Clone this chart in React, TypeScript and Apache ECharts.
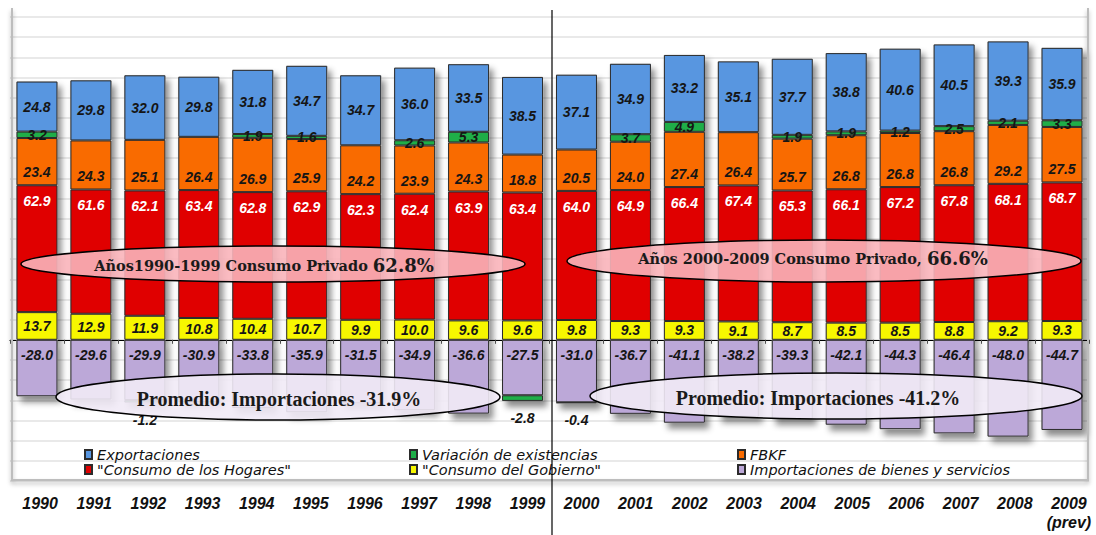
import React, { useEffect, useRef } from "react";
import * as echarts from "echarts";

const categories = ["1990","1991","1992","1993","1994","1995","1996","1997","1998","1999","2000","2001","2002","2003","2004","2005","2006","2007","2008","2009\n(prev)"];
const exportaciones = [24.8,29.8,32.0,29.8,31.8,34.7,34.7,36.0,33.5,38.5,37.1,34.9,33.2,35.1,37.7,38.8,40.6,40.5,39.3,35.9];
const variacion: (number | null)[] = [3.2,null,-1.2,null,1.9,1.6,null,2.6,5.3,-2.8,-0.4,3.7,4.9,null,1.9,1.9,1.2,2.5,2.1,3.3];
const fbkf = [23.4,24.3,25.1,26.4,26.9,25.9,24.2,23.9,24.3,18.8,20.5,24.0,27.4,26.4,25.7,26.8,26.8,26.8,29.2,27.5];
const hogares = [62.9,61.6,62.1,63.4,62.8,62.9,62.3,62.4,63.9,63.4,64.0,64.9,66.4,67.4,65.3,66.1,67.2,67.8,68.1,68.7];
const gobierno = [13.7,12.9,11.9,10.8,10.4,10.7,9.9,10.0,9.6,9.6,9.8,9.3,9.3,9.1,8.7,8.5,8.5,8.8,9.2,9.3];
const importaciones = [-28.0,-29.6,-29.9,-30.9,-33.8,-35.9,-31.5,-34.9,-36.6,-27.5,-31.0,-36.7,-41.1,-38.2,-39.3,-42.1,-44.3,-46.4,-48.0,-44.7];

const N_EXP = "Exportaciones";
const N_VAR = "Variación de existencias";
const N_FBKF = "FBKF";
const N_HOG = "\"Consumo de los Hogares\"";
const N_GOB = "\"Consumo del Gobierno\"";
const N_IMP = "Importaciones de bienes y servicios";

export default function App() {
  const ref = useRef<HTMLDivElement>(null);
  useEffect(() => {
    if (!ref.current) return;
    const chart = echarts.init(ref.current, null, { renderer: "svg" });

    const posTotals = categories.map((_, i) =>
      gobierno[i] + hogares[i] + fbkf[i] + exportaciones[i] + (variacion[i] && (variacion[i] as number) > 0 ? (variacion[i] as number) : 0));
    const negTotals = categories.map((_, i) =>
      importaciones[i] + (variacion[i] && (variacion[i] as number) < 0 ? (variacion[i] as number) : 0));

    const fmt = (p: any) => (p.value == null ? "" : Number(p.value).toFixed(1));
    const lblFont = { fontFamily: "Liberation Sans, Arial, sans-serif", fontWeight: "bold" as const, fontStyle: "italic" as const, fontSize: 14, color: "#151515" };
    const border = { borderColor: "#2b2b2b", borderWidth: 1 };

    const base = { type: "bar" as const, stack: "main", barWidth: 41, barGap: "-100%", z: 3, xAxisIndex: 0, yAxisIndex: 0 };

    const legendText = { fontFamily: "DejaVu Sans, sans-serif", fontStyle: "italic" as const, fontSize: 14.5, color: "#111" };
    const mkLegend = (name: string, left: number, top: number) => ({
      data: [name], left, top, padding: 0, itemWidth: 7, itemHeight: 9, icon: "rect", itemGap: 0,
      textStyle: legendText, selectedMode: false,
    });

    chart.setOption({
      animation: false,
      backgroundColor: "#ffffff",
      grid: [
        { left: 10, right: 7, top: 17, bottom: 54 },
        { left: 13, width: 1090, top: 17, bottom: 54 },
      ],
      legend: [
        mkLegend(N_EXP, 84, 447),
        mkLegend(N_HOG, 84, 462),
        mkLegend(N_VAR, 409, 447),
        mkLegend(N_GOB, 409, 462),
        mkLegend(N_FBKF, 737, 447),
        mkLegend(N_IMP, 737, 462),
      ],
      xAxis: [
        {
          type: "category", data: categories, position: "bottom", gridIndex: 0,
          axisLine: { show: false, onZero: false }, axisTick: { show: false },
          axisLabel: { show: false },
        },
        {
          type: "category", data: categories, position: "top", gridIndex: 0,
          axisLine: { show: true, onZero: true, lineStyle: { color: "#000", width: 1.2 } },
          axisTick: { show: true, inside: true, length: 4, lineStyle: { color: "#555" } },
          axisLabel: { show: false },
        },
        {
          type: "category", data: categories, position: "bottom", gridIndex: 1,
          axisLine: { show: false, onZero: false }, axisTick: { show: false },
          axisLabel: {
            interval: 0, margin: 13, fontFamily: "Liberation Sans, Arial, sans-serif",
            fontWeight: "bold", fontStyle: "italic", fontSize: 16, color: "#111", lineHeight: 19,
          },
        },
      ],
      yAxis: [
        {
          type: "value", min: -70, max: 160, interval: 10, gridIndex: 0,
          axisLine: { show: false }, axisTick: { show: false }, axisLabel: { show: false },
          splitLine: { show: true, lineStyle: { color: "#e2e2e2", width: 1.5 } },
        },
        {
          type: "value", min: -70, max: 160, interval: 10, gridIndex: 1, show: false,
          splitLine: { show: false },
        },
      ],
      series: [
        {
          name: "shadowPos", type: "bar", stack: "sh", barWidth: 41, barGap: "-100%", z: 1, silent: true,
          data: posTotals,
          itemStyle: { color: "#bbbbbb", shadowColor: "rgba(0,0,0,0.45)", shadowBlur: 6, shadowOffsetX: 4, shadowOffsetY: 5 },
        },
        {
          name: "shadowNeg", type: "bar", stack: "sh", barWidth: 41, barGap: "-100%", z: 1, silent: true,
          data: negTotals,
          itemStyle: { color: "#bbbbbb", shadowColor: "rgba(0,0,0,0.45)", shadowBlur: 6, shadowOffsetX: 4, shadowOffsetY: 6 },
        },
        {
          ...base, name: N_GOB, data: gobierno,
          itemStyle: { color: "#f7f700", ...border },
          label: { show: true, position: "inside", formatter: fmt, ...lblFont },
        },
        {
          ...base, name: N_HOG, data: hogares,
          itemStyle: { color: "#e00000", ...border },
          label: { show: true, position: "insideTop", distance: 9, formatter: fmt, ...lblFont, color: "#ffffff" },
        },
        {
          ...base, name: N_FBKF, data: fbkf,
          itemStyle: { color: "#f96b00", ...border },
          label: { show: true, position: "insideBottom", distance: 6, formatter: fmt, ...lblFont },
        },
        {
          ...base, name: N_IMP, data: importaciones,
          itemStyle: { color: "#bca8d8", ...border },
          label: { show: true, position: "insideTop", distance: 8, formatter: fmt, ...lblFont },
        },
        {
          ...base, name: N_VAR,
          data: variacion.map((v) => (v == null ? null : v < 0 ? { value: v, label: { position: "bottom", distance: 10 } } : v)),
          itemStyle: { color: "#1fae48", ...border },
          label: { show: true, position: "inside", formatter: fmt, ...lblFont },
        },
        {
          ...base, name: N_EXP, data: exportaciones,
          itemStyle: { color: "#5896e0", ...border },
          label: { show: true, position: "inside", formatter: fmt, ...lblFont },
        },
      ],
      graphic: [
        {
          type: "polyline", z: 50, silent: true,
          shape: { points: [[12, 8], [12, 480], [1088, 480], [1088, 8]] },
          style: { fill: null, stroke: "#bdbdbd", lineWidth: 2, shadowColor: "rgba(0,0,0,0.3)", shadowBlur: 4, shadowOffsetY: 3 },
        },
        {
          type: "line", z: 120, silent: true,
          shape: { x1: 552, y1: 10, x2: 552, y2: 535 },
          style: { stroke: "#000", lineWidth: 1.2 },
        },
        {
          type: "ellipse", z: 100, silent: true,
          shape: { cx: 273, cy: 264, rx: 252, ry: 18 },
          style: { fill: "rgba(249,180,186,0.9)", stroke: "#000", lineWidth: 1.5 },
        },
        {
          type: "text", z: 101, silent: true, x: 264, y: 265,
          style: {
            text: "{a|Años1990-1999 Consumo Privado }{b|62.8%}", align: "center", verticalAlign: "middle",
            rich: {
              a: { fontFamily: "DejaVu Serif, serif", fontWeight: "bold", fontSize: 14.5, fill: "#1a1a1a" },
              b: { fontFamily: "DejaVu Serif, serif", fontWeight: "bold", fontSize: 18, fill: "#1a1a1a" },
            },
          },
        },
        {
          type: "ellipse", z: 100, silent: true,
          shape: { cx: 824, cy: 261, rx: 257, ry: 21 },
          style: { fill: "rgba(249,180,186,0.9)", stroke: "#000", lineWidth: 1.5 },
        },
        {
          type: "text", z: 101, silent: true, x: 813, y: 258,
          style: {
            text: "{a|Años 2000-2009 Consumo Privado, }{b|66.6%}", align: "center", verticalAlign: "middle",
            rich: {
              a: { fontFamily: "DejaVu Serif, serif", fontWeight: "bold", fontSize: 14.5, fill: "#1a1a1a" },
              b: { fontFamily: "DejaVu Serif, serif", fontWeight: "bold", fontSize: 18, fill: "#1a1a1a" },
            },
          },
        },
        {
          type: "ellipse", z: 100, silent: true,
          shape: { cx: 278, cy: 397, rx: 222, ry: 23 },
          style: { fill: "rgba(241,234,246,0.9)", stroke: "#000", lineWidth: 1.5 },
        },
        {
          type: "text", z: 101, silent: true, x: 279, y: 399,
          style: {
            text: "Promedio: Importaciones -31.9%", align: "center", verticalAlign: "middle",
            fontFamily: "Liberation Serif, Times New Roman, serif", fontWeight: "bold", fontSize: 20, fill: "#1a1a1a",
          },
        },
        {
          type: "ellipse", z: 100, silent: true,
          shape: { cx: 836, cy: 396, rx: 246, ry: 23 },
          style: { fill: "rgba(241,234,246,0.9)", stroke: "#000", lineWidth: 1.5 },
        },
        {
          type: "text", z: 101, silent: true, x: 818, y: 398,
          style: {
            text: "Promedio: Importaciones -41.2%", align: "center", verticalAlign: "middle",
            fontFamily: "Liberation Serif, Times New Roman, serif", fontWeight: "bold", fontSize: 20, fill: "#1a1a1a",
          },
        },
      ],
    });
    return () => chart.dispose();
  }, []);
  return <div ref={ref} style={{ position: "fixed", left: 0, top: 0, width: 1096, height: 535 }} />;
}
